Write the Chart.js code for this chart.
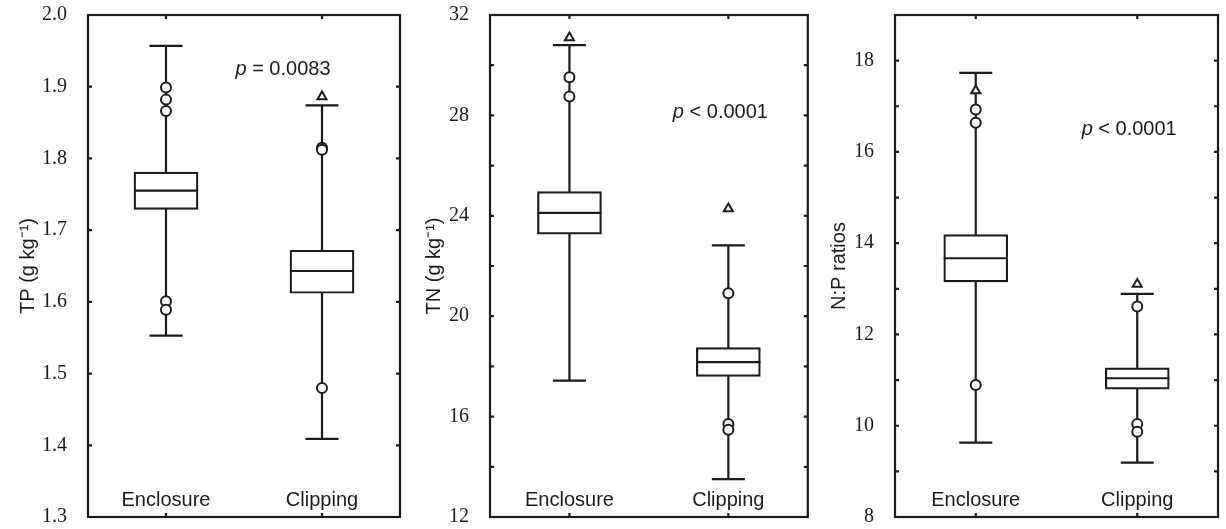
<!DOCTYPE html>
<html>
<head>
<meta charset="utf-8">
<script src="https://cdn.jsdelivr.net/npm/chart.js@4.4.0/dist/chart.umd.min.js"></script>
<style>
  html, body { margin: 0; padding: 0; background: #fff; }
  .panel { position: absolute; top: 0; }
</style>
</head>
<body>
<canvas id="tpChart" class="panel" width="410" height="529" style="left:0px"></canvas>
<canvas id="tnChart" class="panel" width="405" height="529" style="left:410px"></canvas>
<canvas id="npChart" class="panel" width="411" height="529" style="left:815px"></canvas>
<script>
const groups = ['Enclosure', 'Clipping'];

// TP (g kg-1)
const tpLow = [1.553, 1.409];
const tpQ1 = [1.729, 1.612];
const tpMedian = [1.755, 1.643];
const tpQ3 = [1.781, 1.672];
const tpHigh = [1.957, 1.874];
const tpOutliers = [[1.899, 1.882, 1.866, 1.601, 1.589], [1.815, 1.812, 1.480]];
const tpExtremes = [[], [1.886]];

// TN (g kg-1)
const tnLow = [17.43, 13.51];
const tnQ1 = [23.27, 17.60];
const tnMedian = [24.12, 18.17];
const tnQ3 = [24.96, 18.75];
const tnHigh = [30.80, 22.82];
const tnOutliers = [[29.52, 28.75], [20.91, 15.71, 15.48]];
const tnExtremes = [[31.10], [24.28]];

// N:P ratios
const npLow = [9.63, 9.19];
const npQ1 = [13.15, 10.80];
const npMedian = [13.67, 11.04];
const npQ3 = [14.19, 11.27];
const npHigh = [17.73, 12.89];
const npOutliers = [[16.93, 16.64, 10.89], [12.61, 10.04, 9.87]];
const npExtremes = [[17.34], [13.10]];

const INK = '#1c1c1c';

// whiskers + caps (behind the boxes) and median lines (on top)
const boxPlugin = {
  id: 'boxWhiskers',
  beforeDatasetsDraw(chart, args, opts) {
    const { ctx } = chart;
    const x = chart.scales.x, y = chart.scales.y;
    ctx.save();
    ctx.strokeStyle = INK;
    ctx.lineWidth = 2.2;
    opts.low.forEach((lo, i) => {
      const px = x.getPixelForValue(i);
      const yLo = y.getPixelForValue(lo);
      const yHi = y.getPixelForValue(opts.high[i]);
      ctx.beginPath();
      ctx.moveTo(px, yLo); ctx.lineTo(px, yHi);
      ctx.moveTo(px - opts.cap / 2, yLo); ctx.lineTo(px + opts.cap / 2, yLo);
      ctx.moveTo(px - opts.cap / 2, yHi); ctx.lineTo(px + opts.cap / 2, yHi);
      ctx.stroke();
    });
    ctx.restore();
  },
  afterDatasetsDraw(chart, args, opts) {
    const { ctx } = chart;
    const x = chart.scales.x, y = chart.scales.y;
    ctx.save();
    ctx.strokeStyle = INK;
    ctx.lineWidth = 2.2;
    opts.median.forEach((m, i) => {
      const px = x.getPixelForValue(i);
      const py = y.getPixelForValue(m);
      ctx.beginPath();
      ctx.moveTo(px - opts.box / 2, py); ctx.lineTo(px + opts.box / 2, py);
      ctx.stroke();
    });
    ctx.restore();
  }
};

// closed frame with inward tick marks, and the p-value note
const framePlugin = {
  id: 'frame',
  afterDraw(chart, args, opts) {
    const { ctx, chartArea } = chart;
    const { left, right, top, bottom } = chartArea;
    const x = chart.scales.x, y = chart.scales.y;
    ctx.save();
    ctx.strokeStyle = INK;
    ctx.lineWidth = 2.2;
    ctx.strokeRect(left, top, right - left, bottom - top);
    ctx.beginPath();
    y.ticks.forEach((t, i) => {
      const py = y.getPixelForTick(i);
      ctx.moveTo(left, py); ctx.lineTo(left + 4, py);
      ctx.moveTo(right, py); ctx.lineTo(right - 4, py);
    });
    x.ticks.forEach((t, i) => {
      const px = x.getPixelForTick(i);
      ctx.moveTo(px, top); ctx.lineTo(px, top + 4);
      ctx.moveTo(px, bottom); ctx.lineTo(px, bottom - 4);
    });
    ctx.stroke();

    // p value
    const cx = x.getPixelForValue(opts.at[0]);
    const cy = y.getPixelForValue(opts.at[1]);
    ctx.fillStyle = INK;
    ctx.textBaseline = 'middle';
    ctx.font = 'italic 20px "Liberation Sans"';
    const wp = ctx.measureText('p').width;
    ctx.font = '20px "Liberation Sans"';
    const wr = ctx.measureText(opts.text).width;
    let sx = cx - (wp + wr) / 2;
    ctx.font = 'italic 20px "Liberation Sans"';
    ctx.fillText('p', sx, cy);
    ctx.font = '20px "Liberation Sans"';
    ctx.fillText(opts.text, sx + wp, cy);
    ctx.restore();
  }
};

function points(lists) {
  const pts = [];
  lists.forEach((vals, i) => vals.forEach(v => pts.push({ x: groups[i], y: v })));
  return pts;
}

function makePanel(id, cfg) {
  return new Chart(document.getElementById(id), {
    type: 'bar',
    data: {
      labels: groups,
      datasets: [
        {
          type: 'scatter', data: points(cfg.outliers), pointStyle: 'circle',
          pointRadius: 5, borderWidth: 2, borderColor: INK, backgroundColor: '#fff'
        },
        {
          type: 'scatter', data: points(cfg.extremes), pointStyle: 'triangle',
          pointRadius: 5.2, borderWidth: 2, borderColor: INK, backgroundColor: '#fff'
        },
        {
          type: 'bar', data: cfg.q1.map((q, i) => [q, cfg.q3[i]]),
          barThickness: 64, backgroundColor: '#fff', borderColor: INK,
          borderWidth: 2.2, borderSkipped: false
        }
      ]
    },
    options: {
      responsive: false,
      animation: false,
      layout: { padding: { top: 15, right: cfg.rightPad, left: 0, bottom: 0 } },
      plugins: {
        legend: { display: false },
        tooltip: { enabled: false },
        boxWhiskers: { low: cfg.low, high: cfg.high, median: cfg.median, cap: 33, box: 64 },
        frame: { text: cfg.pText, at: cfg.pAt }
      },
      scales: {
        x: {
          type: 'category',
          offset: true,
          grid: { display: false },
          border: { display: false },
          ticks: {
            mirror: true, padding: 5, maxRotation: 0, autoSkip: false,
            color: INK, font: { family: 'Liberation Sans', size: 20 }
          },
          afterFit: s => { s.height = 12; s.paddingLeft = 0; s.paddingRight = 0; }
        },
        y: {
          min: cfg.min, max: cfg.max,
          grid: { display: false },
          border: { display: false },
          ticks: {
            stepSize: cfg.step, padding: 13, color: INK,
            font: { family: 'Liberation Serif', size: 20 },
            callback: cfg.tickLabel
          },
          title: {
            display: true, text: cfg.title, color: INK,
            font: { family: 'Liberation Sans', size: 20 },
            padding: { top: cfg.titlePad, bottom: 0 }
          },
          afterFit: s => { s.width = cfg.axisWidth; s.paddingTop = 0; s.paddingBottom = 0; }
        }
      }
    },
    plugins: [boxPlugin, framePlugin]
  });
}

const tpChart = makePanel('tpChart', {
  low: tpLow, q1: tpQ1, median: tpMedian, q3: tpQ3, high: tpHigh,
  outliers: tpOutliers, extremes: tpExtremes,
  min: 1.3, max: 2.0, step: 0.1, tickLabel: v => v.toFixed(1),
  title: 'TP (g kg\u207B\u00B9)', titlePad: 16, axisWidth: 88, rightPad: 10,
  pText: ' = 0.0083', pAt: [0.75, 1.924]
});

const tnChart = makePanel('tnChart', {
  low: tnLow, q1: tnQ1, median: tnMedian, q3: tnQ3, high: tnHigh,
  outliers: tnOutliers, extremes: tnExtremes,
  min: 12, max: 32, step: 2, tickLabel: v => (v % 4 === 0 ? v : ''),
  title: 'TN (g kg\u207B\u00B9)', titlePad: 12, axisWidth: 80, rightPad: 7,
  pText: ' < 0.0001', pAt: [0.95, 28.12]
});

const npChart = makePanel('npChart', {
  low: npLow, q1: npQ1, median: npMedian, q3: npQ3, high: npHigh,
  outliers: npOutliers, extremes: npExtremes,
  min: 8, max: 19, step: 1, tickLabel: v => (v % 2 === 0 ? v : ''),
  title: 'N:P ratios', titlePad: 12, axisWidth: 80, rightPad: 8,
  pText: ' < 0.0001', pAt: [0.95, 16.49]
});
</script>
</body>
</html>
